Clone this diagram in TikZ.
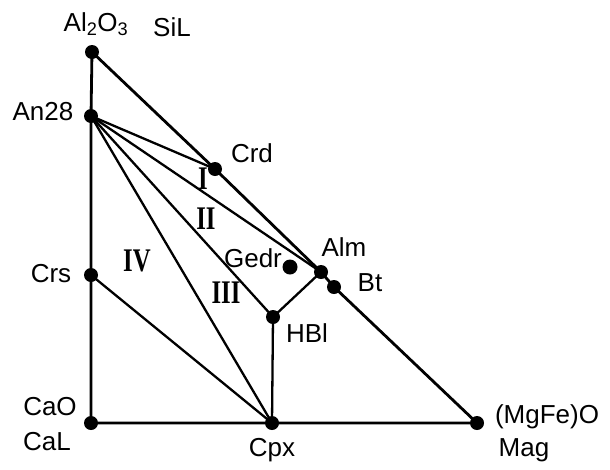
\documentclass[tikz,border=0pt]{standalone}
\usepackage{fontspec}
\setmainfont{Liberation Sans}
\newfontfamily\romfont{Liberation Serif}
\begin{document}
\begin{tikzpicture}[x=1pt,y=-1pt,
  pt/.style={circle,fill=black,inner sep=0pt,minimum size=14pt},
  lbl/.style={font=\fontsize{26}{30}\selectfont,inner sep=0pt},
  rom/.style={font=\romfont\bfseries\fontsize{33}{33}\selectfont,inner sep=0pt,xscale=0.75,transform shape},
  edge/.style={line width=2.8pt},
  thin/.style={line width=2.3pt}]
\useasboundingbox (0,0) rectangle (610,469);
% points
\node[pt] (al) at (92,52) {};
\node[pt] (an) at (91,116) {};
\node[pt] (crd) at (215,169) {};
\node[pt] (alm) at (321,272) {};
\node[pt] (bt) at (334,287) {};
\node[pt,minimum size=15pt] (ged) at (290,267) {};
\node[pt] (hbl) at (273,317) {};
\node[pt] (crs) at (91,275) {};
\node[pt] (cao) at (91,423) {};
\node[pt] (cpx) at (272,423) {};
\node[pt] (mg) at (477,423) {};
% lines
\draw[edge] (al.center) -- (an.center) -- (crs.center) -- (cao.center) -- (cpx.center) -- (mg.center);
\draw[edge] (al.center) -- (crd.center) -- (alm.center) -- (bt.center) -- (mg.center);
\draw[thin] (an.center) -- (crd.center);
\draw[thin] (an.center) -- (alm.center);
\draw[thin] (an.center) -- (hbl.center);
\draw[thin] (an.center) -- (cpx.center);
\draw[thin] (crs.center) -- (cpx.center);
\draw[thin] (hbl.center) -- (alm.center);
\draw[thin] (hbl.center) -- (cpx.center);
% labels
\node[lbl] (lal) at (96,24) {Al\textsubscript{2}O\textsubscript{3}};
\node[lbl] (lsil) at (172,27) {SiL};
\node[lbl] (lan) at (43,112) {An28};
\node[lbl] (lcrd) at (252,153) {Crd};
\node[lbl] (lalm) at (344,247) {Alm};
\node[lbl] (lbt) at (370,283) {Bt};
\node[lbl] (lged) at (253,258) {Gedr};
\node[lbl] (lhbl) at (307,333) {HBl};
\node[lbl] (lcrs) at (51,274) {Crs};
\node[lbl] (lcao) at (50,407) {CaO};
\node[lbl] (lcal) at (47,442) {CaL};
\node[lbl] (lcpx) at (272,450) {Cpx};
\node[lbl] (lmg) at (547,417) {(MgFe)O};
\node[lbl] (lmag) at (524,450) {Mag};
% roman numerals
\node[rom] (r1) at (203,179) {I};
\node[rom] (r2) at (206,219) {II};
\node[rom] (r3) at (226,293) {III};
\node[rom] (r4) at (137,261) {IV};
\end{tikzpicture}
\end{document}
